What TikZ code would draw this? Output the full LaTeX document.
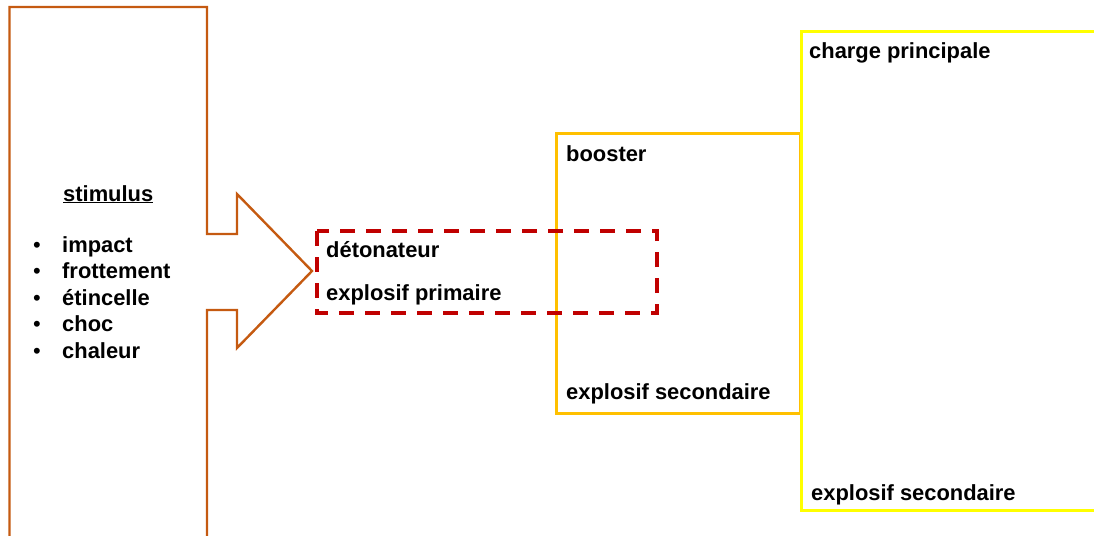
\documentclass[tikz,border=0pt]{standalone}
\usepackage{fontspec}
\setmainfont{Liberation Sans}
\usepackage{tikz}
\usetikzlibrary{calc}
\definecolor{brique}{RGB}{197,90,17}
\definecolor{ambre}{RGB}{255,192,0}
\definecolor{jaune}{RGB}{255,255,0}
\definecolor{rouge}{RGB}{192,0,0}
\tikzset{
  lbl/.style={anchor=base west, inner sep=0pt, font=\fontsize{21.9}{26.5}\selectfont\bfseries},
  puce/.style={anchor=base, inner sep=0pt, font=\fontsize{21.9}{26.5}\selectfont}
}

\begin{document}
\begin{tikzpicture}[x=1pt,y=-1pt]
        % Cadre de l'image : 1094 x 535
        \useasboundingbox (0,0) rectangle (1094,535);
        \clip (0,0) rectangle (1094,535);

        % Bloc "stimulus" avec la flèche (ouvert en bas)
        \coordinate (G1) at (9.5,545);
        \coordinate (G2) at (9.5,7);
        \coordinate (H1) at (207,7);
        \coordinate (H2) at (207,234);
        \coordinate (F1) at (237,234);
        \coordinate (F2) at (237,194);
        \coordinate (P) at (312,271);
        \coordinate (F3) at (237,348);
        \coordinate (F4) at (237,310);
        \coordinate (H3) at (207,310);
        \coordinate (H4) at (207,545);

        \draw[brique, line width=2.4pt] (G1) -- (G2) -- (H1) -- (H2) -- (F1) -- (F2)
              -- (P) -- (F3) -- (F4) -- (H3) -- (H4);

        % Booster
        \draw[ambre, line width=3pt] (556.5,133) rectangle (800,413.5);

        % Charge principale (coupée à droite)
        \draw[jaune, line width=3pt] (801.5,32) rectangle (1110,510);

        % Détonateur en pointillés
        \draw[rouge, line width=3.5pt, dash pattern=on 15pt off 11pt] (317,231) rectangle (657,313);

        % Textes
        \node[lbl] (stim) at (63,201) {\underline{stimulus}};
        \foreach \y/\mot [count=\i] in {252/impact,278.5/frottement,305/étincelle,331.5/choc,358/chaleur}{
          \node[puce] (p\i) at (37,\y) {\textbullet};
          \node[lbl] (s\i) at (62,\y) {\mot};
        }

        \node[lbl] (deto) at (326,257) {détonateur};
        \node[lbl] (prim) at (326,300) {explosif primaire};

        \node[lbl] (boost) at (566,161) {booster};
        \node[lbl] (sec1) at (566,399) {explosif secondaire};

        \node[lbl] (charge) at (809,59) {charge principale};
        \node[lbl] (sec2) at (811,500) {explosif secondaire};
    \end{tikzpicture}
\end{document}
